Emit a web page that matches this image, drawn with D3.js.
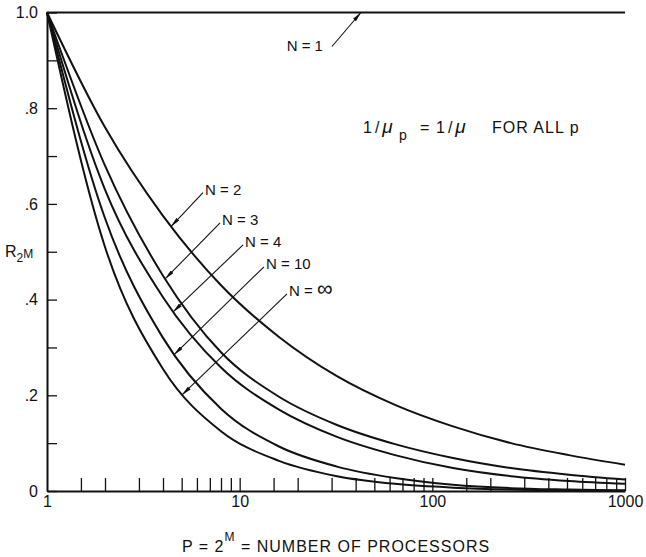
<!DOCTYPE html>
<html>
<head>
<meta charset="utf-8">
<script src="https://cdn.jsdelivr.net/npm/d3@7"></script>
<style>
body { margin: 0; background: #fff; }
text { font-family: "Liberation Sans", Arial, sans-serif; fill: #111; }
</style>
</head>
<body>
<div id="root"></div>
<script>
// number of processors P = 2^M (x) and R_2M per N (y)
var pValues   = [1, 2, 4, 8, 16, 32, 64, 128, 256, 512, 1000];
var seriesN1  = [1, 1, 1, 1, 1, 1, 1, 1, 1, 1, 1];
var seriesN2  = [1, 0.76, 0.575, 0.43, 0.322, 0.240, 0.180, 0.135, 0.100, 0.075, 0.055];
var seriesN3  = [1, 0.68, 0.45, 0.29, 0.197, 0.138, 0.098, 0.069, 0.048, 0.034, 0.024];
var seriesN4  = [1, 0.63, 0.405, 0.258, 0.170, 0.113, 0.075, 0.048, 0.031, 0.021, 0.015];
var seriesN10 = [1, 0.57, 0.32, 0.172, 0.093, 0.051, 0.027, 0.013, 0.006, 0.003, 0.001];
var seriesNinf = [1, 0.51, 0.255, 0.125, 0.063, 0.031, 0.015, 0.007, 0.003, 0.0015, 0.0008];

var seriesNames = ["1", "2", "3", "4", "10", "\u221E"];
var seriesList = [seriesN1, seriesN2, seriesN3, seriesN4, seriesN10, seriesNinf];

// axis ticks
var xTickValues = [1.5, 2, 3, 4, 5, 6, 7, 8, 9, 10, 15, 20, 30, 40, 50, 60, 70, 80, 90, 100,
                   150, 200, 300, 400, 500, 600, 700, 800, 900, 1000];
var xLabelValues = [1, 10, 100, 1000];
var xLabelText = ["1", "10", "100", "1000"];
var yTickValues = [0, 0.1, 0.2, 0.3, 0.4, 0.5, 0.6, 0.7, 0.8, 0.9, 1.0];
var yLabelValues = [0, 0.2, 0.4, 0.6, 0.8, 1.0];
var yLabelText = ["0", ".2", ".4", ".6", ".8", "1.0"];

// arrow labels: p where the arrow touches the curve, and tail offset from tip
var arrowNotes = [
    {s: 0, p: 42.6, dx: -29, dy: 34},
    {s: 1, p: 4.40, dx: 32, dy: -34},
    {s: 2, p: 4.10, dx: 55, dy: -56},
    {s: 3, p: 4.51, dx: 70, dy: -67},
    {s: 4, p: 4.56, dx: 90, dy: -88},
    {s: 5, p: 5.02, dx: 105, dy: -101}
];

var w = 646, h = 557;
var svg = d3.select("#root").append("svg")
    .attr("width", w)
    .attr("height", h);

svg.append("rect").attr("width", w).attr("height", h).attr("fill", "#fff");

var x = d3.scaleLog().domain([1, 1000]).range([47, 625]);
var y = d3.scaleLinear().domain([0, 1]).range([491, 12.5]);

function styleLabels(g) {
    g.select(".domain").remove();
    g.selectAll("text")
        .attr("font-size", 16)
        .attr("font-family", "Liberation Sans, Arial, sans-serif")
        .attr("fill", "#111");
}

// x axis: inward ticks, then labels
svg.append("g")
    .attr("transform", "translate(0," + y(0) + ")")
    .call(d3.axisBottom(x).tickValues(xTickValues).tickFormat("").tickSizeInner(-13).tickSizeOuter(0))
    .call(function(g) {
        g.select(".domain").attr("stroke", "#111").attr("stroke-width", 2);
        g.selectAll(".tick line").attr("stroke", "#111").attr("stroke-width", 1.3);
    });

svg.append("g")
    .attr("transform", "translate(0," + y(0) + ")")
    .call(d3.axisBottom(x).tickValues(xLabelValues)
        .tickFormat(function(d, i) { return xLabelText[i]; })
        .tickSize(0).tickPadding(5))
    .call(styleLabels);

// y axis
svg.append("g")
    .attr("transform", "translate(" + x(1) + ",0)")
    .call(d3.axisLeft(y).tickValues(yTickValues).tickFormat("").tickSizeInner(-10).tickSizeOuter(0))
    .call(function(g) {
        g.select(".domain").attr("stroke", "#111").attr("stroke-width", 2);
        g.selectAll(".tick line").attr("stroke", "#111").attr("stroke-width", 1.3);
    });

svg.append("g")
    .attr("transform", "translate(" + x(1) + ",0)")
    .call(d3.axisLeft(y).tickValues(yLabelValues)
        .tickFormat(function(d, i) { return yLabelText[i]; })
        .tickSize(0).tickPadding(9))
    .call(styleLabels);

// curves
var line = d3.line()
    .x(function(d, i) { return x(pValues[i]); })
    .y(function(d) { return y(d); })
    .curve(d3.curveMonotoneX);

var paths = svg.selectAll("path.curve")
    .data(seriesList)
    .enter()
    .append("path")
    .attr("class", "curve")
    .attr("fill", "none")
    .attr("stroke", "#111")
    .attr("stroke-width", 2)
    .attr("d", line);

// arrowheads
svg.append("defs").append("marker")
    .attr("id", "head")
    .attr("viewBox", "0 0 10 4")
    .attr("refX", 10).attr("refY", 2)
    .attr("markerWidth", 10).attr("markerHeight", 4)
    .attr("markerUnits", "userSpaceOnUse")
    .attr("orient", "auto")
    .append("path")
    .attr("d", "M0,0 L10,2 L0,4 Z")
    .attr("fill", "#111");

function pointAtX(node, px) {
    var lo = 0, hi = node.getTotalLength();
    for (var i = 0; i < 30; i++) {
        var mid = (lo + hi) / 2;
        if (node.getPointAtLength(mid).x < px) lo = mid; else hi = mid;
    }
    return node.getPointAtLength(lo);
}

var pathNodes = paths.nodes();
arrowNotes.forEach(function(a) {
    var tip = pointAtX(pathNodes[a.s], x(a.p));
    var tx = tip.x + a.dx, ty = tip.y + a.dy;
    svg.append("line")
        .attr("x1", tx).attr("y1", ty)
        .attr("x2", tip.x).attr("y2", tip.y)
        .attr("stroke", "#111")
        .attr("stroke-width", 1.1)
        .attr("marker-end", "url(#head)");
    var left = a.dx < 0;
    var t = svg.append("text")
        .attr("x", left ? tx - 9 : tx + 2)
        .attr("y", ty + (left ? 4 : 2))
        .attr("text-anchor", left ? "end" : "start")
        .attr("font-size", 15);
    t.append("tspan").text("N = ");
    var name = seriesNames[a.s];
    t.append("tspan")
        .attr("font-size", name == "\u221E" ? 22 : 15)
        .text(name);
});

// note
var note = svg.append("text")
    .attr("y", 133)
    .attr("font-size", 16);
note.append("tspan").attr("x", 363).attr("letter-spacing", 3).text("1/");
note.append("tspan").attr("font-size", 19).attr("font-style", "italic").text("\u03BC");
note.append("tspan").attr("x", 399).attr("font-size", 14).attr("dy", 7).text("p");
note.append("tspan").attr("x", 420).attr("dy", -7).text("=");
note.append("tspan").attr("x", 436).attr("letter-spacing", 3).text("1/");
note.append("tspan").attr("font-size", 19).attr("font-style", "italic").text("\u03BC");
note.append("tspan").attr("x", 492).attr("letter-spacing", 1).text("FOR ALL p");

// y title
var yt = svg.append("text").attr("x", 5).attr("y", 257).attr("font-size", 16);
yt.append("tspan").text("R");
yt.append("tspan").attr("font-size", 12).attr("dy", 5).text("2");
yt.append("tspan").attr("font-size", 12).attr("dy", -4).text("M");

// x title
var xt = svg.append("text").attr("x", 182).attr("y", 552)
    .attr("font-size", 16).attr("letter-spacing", 1);
xt.append("tspan").text("P = 2");
xt.append("tspan").attr("font-size", 12).attr("dy", -11).text("M");
xt.append("tspan").attr("dy", 11).text(" = NUMBER OF PROCESSORS");
</script>
</body>
</html>
